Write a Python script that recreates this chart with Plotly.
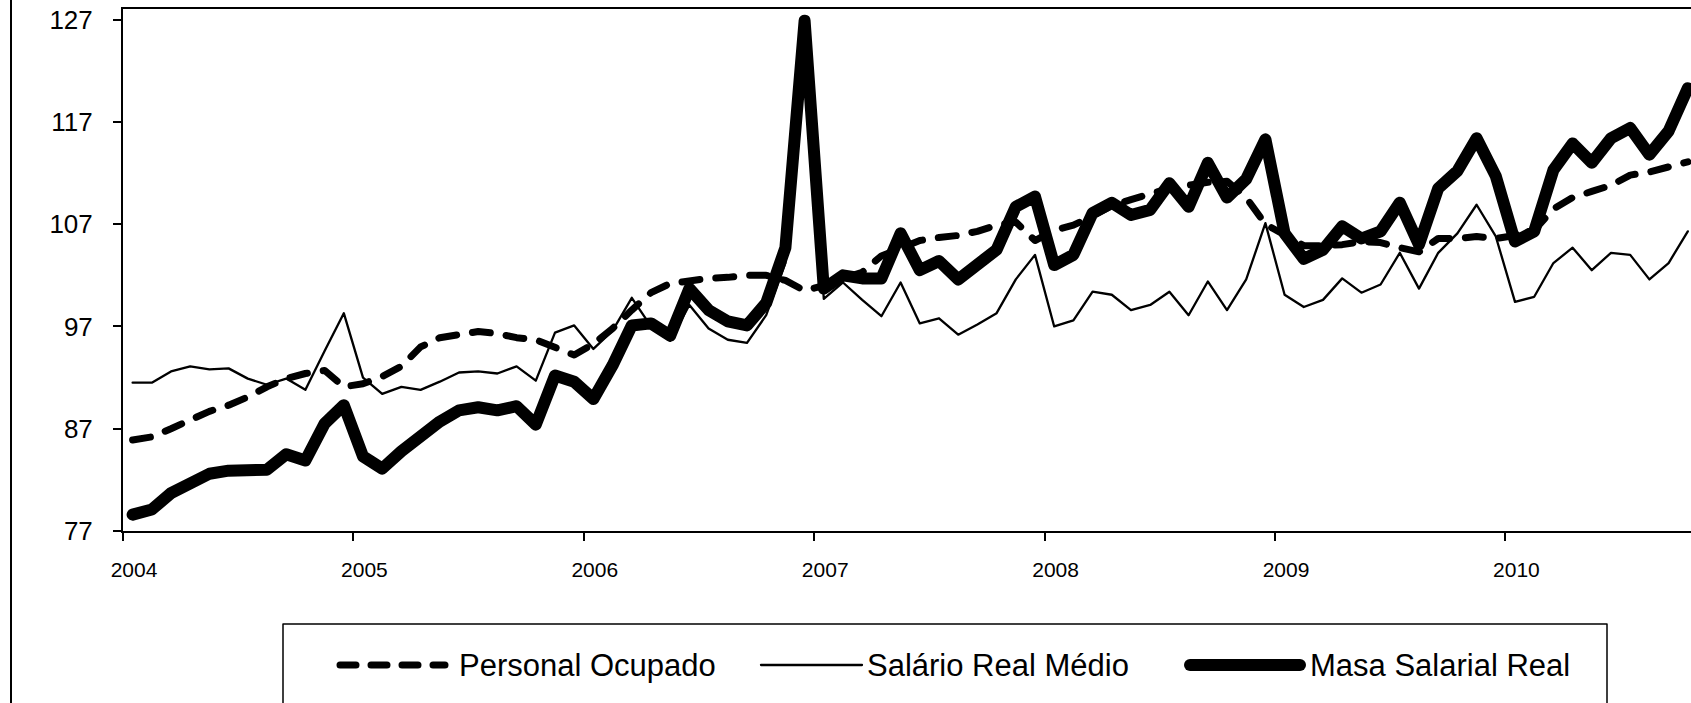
import plotly.graph_objects as go

# Monthly observations, Jan 2004 .. Oct 2010 (index, base = 100)
months = [f"{y}-{m:02d}" for y in range(2004, 2011) for m in range(1, 13)][:82]

personal_ocupado = [
    85.9, 86.2, 87.0, 87.9, 88.7, 89.3, 90.1, 91.1, 91.9, 92.4, 92.7, 91.1,
    91.4, 92.1, 93.1, 95.0, 95.9, 96.2, 96.5, 96.3, 95.9, 95.7, 94.9, 94.2,
    95.3, 96.8, 98.6, 100.3, 101.2, 101.5, 101.7, 101.8, 102.0, 102.0, 101.5, 100.5,
    101.0, 101.7, 102.3, 103.9, 104.7, 105.4, 105.7, 105.9, 106.3, 106.9, 107.2, 105.4,
    106.4, 106.9, 107.8, 108.8, 109.4, 109.9, 110.5, 110.8, 111.1, 111.2, 109.6, 107.0,
    106.0, 104.9, 104.9, 105.0, 105.3, 105.2, 104.7, 104.3, 105.6, 105.6, 105.8, 105.6,
    105.9, 106.4, 108.5, 109.6, 110.2, 110.8, 111.8, 112.1, 112.6, 113.1,
]

salario_real_medio = [
    91.5, 91.5, 92.6, 93.1, 92.8, 92.9, 91.9, 91.3, 91.9, 90.8, 94.6, 98.3,
    92.0, 90.4, 91.1, 90.8, 91.6, 92.5, 92.6, 92.4, 93.1, 91.7, 96.4, 97.1,
    94.8, 96.6, 99.8, 97.0, 95.6, 99.1, 96.8, 95.7, 95.4, 98.1, 103.2, 126.3,
    99.7, 101.3, 99.6, 98.0, 101.3, 97.3, 97.8, 96.2, 97.2, 98.3, 101.6, 104.0,
    97.0, 97.6, 100.4, 100.1, 98.6, 99.1, 100.4, 98.1, 101.4, 98.6, 101.6, 107.1,
    100.1, 98.9, 99.6, 101.7, 100.3, 101.1, 104.2, 100.7, 104.2, 106.1, 108.9, 105.8,
    99.4, 99.9, 103.2, 104.7, 102.5, 104.2, 104.0, 101.6, 103.2, 106.3,
]

masa_salarial_real = [
    78.6, 79.1, 80.7, 81.7, 82.6, 82.9, 82.9, 83.0, 84.5, 83.9, 87.5, 89.3,
    84.3, 83.1, 84.8, 86.4, 87.7, 88.8, 89.1, 88.8, 89.2, 87.4, 92.2, 91.6,
    89.9, 93.2, 97.1, 97.3, 96.1, 100.7, 98.6, 97.5, 97.1, 99.3, 104.7, 126.9,
    100.7, 102.0, 101.7, 101.7, 106.1, 102.5, 103.4, 101.6, 103.0, 104.5, 108.7, 109.7,
    103.0, 104.0, 108.1, 109.1, 107.9, 108.4, 111.0, 108.7, 113.0, 109.6, 111.4, 115.3,
    106.1, 103.6, 104.5, 106.8, 105.6, 106.3, 109.1, 105.0, 110.5, 112.2, 115.4, 111.7,
    105.3, 106.3, 112.3, 114.9, 113.0, 115.4, 116.4, 113.8, 116.1, 120.3,
]

year_labels = ["2004", "2005", "2006", "2007", "2008", "2009", "2010"]
y_ticks = [77, 87, 97, 107, 117, 127]
series_names = ["Personal Ocupado", "Salário Real Médio", "Masa Salarial Real"]

FONT = "Liberation Sans, Arial, sans-serif"
x = list(range(len(months)))

fig = go.Figure()
fig.add_trace(go.Scatter(x=x, y=personal_ocupado, mode="lines", name=series_names[0],
                         text=months, line=dict(color="black", width=7, dash="18px,16px")))
fig.add_trace(go.Scatter(x=x, y=salario_real_medio, mode="lines", name=series_names[1],
                         text=months, line=dict(color="black", width=2.3)))
fig.add_trace(go.Scatter(x=x, y=masa_salarial_real, mode="lines", name=series_names[2],
                         text=months, line=dict(color="black", width=12)))

W, H = 1691, 703
L, R, T, B = 123, 0, 9, 172
pw, ph = W - L - R, H - T - B


def px_x(v):
    return (v - L) / pw


def px_y(v):
    return (H - B - v) / ph


month_px = 19.2
x_hi = -0.5 + pw / month_px

fig.update_layout(
    width=W, height=H,
    margin=dict(l=L, r=R, t=T, b=B, autoexpand=False),
    paper_bgcolor="white", plot_bgcolor="white",
    showlegend=False,
    font=dict(family=FONT, color="black"),
    xaxis=dict(
        range=[-0.5, x_hi], automargin=False,
        tickmode="array",
        tickvals=[12 * k - 0.5 for k in range(len(year_labels))],
        ticktext=year_labels,
        ticks="outside", ticklen=8, tickwidth=1.5, tickcolor="black",
        ticklabelshift=11, ticklabelstandoff=11,
        tickfont=dict(size=21, family=FONT, color="black"),
        showline=True, linecolor="black", linewidth=2, mirror=True,
        showgrid=False, zeroline=False,
    ),
    yaxis=dict(
        range=[77, 128.04], automargin=False,
        tickmode="array", tickvals=y_ticks, ticktext=[str(v) for v in y_ticks],
        ticks="outside", ticklen=8, tickwidth=1.5, tickcolor="black",
        ticklabelstandoff=15,
        tickfont=dict(size=26, family=FONT, color="black"),
        showline=True, linecolor="black", linewidth=2,
        showgrid=False, zeroline=False,
    ),
)

shapes = []
# outer chart frame (left edge)
shapes.append(dict(type="line", xref="paper", yref="paper",
                   x0=px_x(11), x1=px_x(11), y0=px_y(H + 5), y1=px_y(-5),
                   line=dict(color="black", width=2)))
# legend box
shapes.append(dict(type="rect", xref="paper", yref="paper",
                   x0=px_x(283), x1=px_x(1607), y0=px_y(H + 10), y1=px_y(624),
                   line=dict(color="black", width=1.5), fillcolor="rgba(0,0,0,0)"))
ly = px_y(665)
samples = [
    (340, 445, dict(color="black", width=7, dash="16px,15px")),
    (761, 862, dict(color="black", width=2.3)),
    (1190, 1300, dict(color="black", width=12)),
]
for x0, x1, ln in samples:
    shapes.append(dict(type="line", xref="paper", yref="paper",
                       x0=px_x(x0), x1=px_x(x1), y0=ly, y1=ly, line=ln))

annotations = []
for name, tx in zip(series_names, [457, 865, 1308]):
    annotations.append(dict(xref="paper", yref="paper", x=px_x(tx), y=ly,
                            xanchor="left", yanchor="middle", showarrow=False,
                            text=name, font=dict(size=31, family=FONT, color="black")))

fig.update_layout(shapes=shapes, annotations=annotations)

post = (
    "document.body.style.margin='0';document.body.style.overflow='hidden';"
    "document.querySelectorAll('.scatterlayer .js-line, .shapelayer path').forEach("
    "function(p){p.style.strokeLinecap='round';p.style.strokeLinejoin='round';});"
)

fig.write_html("out.html", config={"displayModeBar": False}, post_script=post)
